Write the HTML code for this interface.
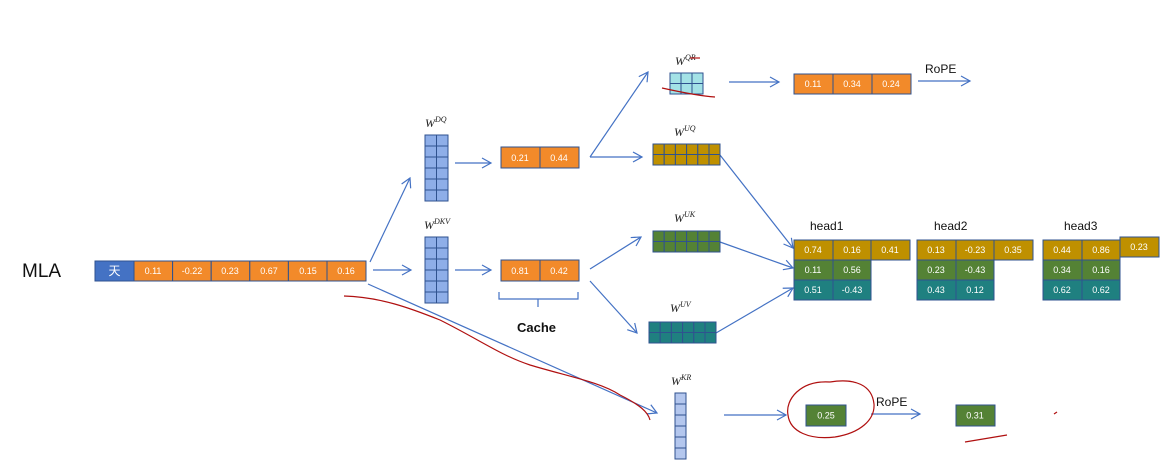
<!DOCTYPE html>
<html><head><meta charset="utf-8"><style>
html,body{margin:0;padding:0;background:#fff;}
svg{display:block;}
.c{font-family:"Liberation Sans",sans-serif;font-size:9px;fill:#fff;text-anchor:middle;dominant-baseline:central;}
.w{font-family:"Liberation Serif",serif;font-style:italic;font-size:12px;fill:#222;}
.w tspan{font-size:8px;}
.l{font-family:"Liberation Sans",sans-serif;font-size:12px;fill:#111;}
</style></head><body>
<svg width="1173" height="462" viewBox="0 0 1173 462" xmlns="http://www.w3.org/2000/svg">
<defs>
<marker id="a" markerWidth="12" markerHeight="12" refX="10" refY="6" orient="auto" markerUnits="userSpaceOnUse">
<polyline points="1,1 10,6 1,11" fill="none" stroke="#4472c4" stroke-width="1.2"/></marker>
</defs>
<g fill="none" stroke="#4472c4" stroke-width="1.2" marker-end="url(#a)">
<line x1="370" y1="262" x2="410" y2="178"/>
<line x1="373" y1="270" x2="411" y2="270"/>
<line x1="455" y1="163" x2="491" y2="163"/>
<line x1="455" y1="270" x2="491" y2="270"/>
<line x1="590" y1="157" x2="648" y2="72"/>
<line x1="590" y1="157" x2="642" y2="157"/>
<line x1="590" y1="269" x2="641" y2="237"/>
<line x1="590" y1="281" x2="637" y2="333"/>
<line x1="729" y1="82" x2="779" y2="82"/>
<line x1="918" y1="81" x2="970" y2="81"/>
<line x1="720" y1="155" x2="793" y2="248"/>
<line x1="720" y1="242" x2="793" y2="268"/>
<line x1="716" y1="333" x2="793" y2="288"/>
<line x1="368" y1="284" x2="657" y2="413"/>
<line x1="724" y1="415" x2="786" y2="415"/>
<line x1="871" y1="414" x2="920" y2="414"/>
</g>
<!-- brace -->
<path d="M499 292 v7 h79 v-7 M538 299 v8" fill="none" stroke="#4472c4" stroke-width="1.2"/>
<!-- main row -->
<rect x="95" y="261" width="39" height="20" fill="#4472c4" stroke="#2f528f"/>
<text x="114.5" y="271" class="c" style="font-size:12px;font-family:'Liberation Sans','Noto Sans CJK SC',sans-serif">天</text>
<g stroke="#2f528f" fill="#f28a2a">
<rect x="134" y="261" width="38.6" height="20"/><rect x="172.6" y="261" width="38.6" height="20"/><rect x="211.2" y="261" width="38.6" height="20"/><rect x="249.8" y="261" width="38.6" height="20"/><rect x="288.4" y="261" width="38.6" height="20"/><rect x="327" y="261" width="39" height="20"/>
<rect x="501" y="147" width="39" height="21"/><rect x="540" y="147" width="39" height="21"/>
<rect x="501" y="260" width="39" height="21"/><rect x="540" y="260" width="39" height="21"/>
<rect x="794" y="74" width="39" height="20"/><rect x="833" y="74" width="39" height="20"/><rect x="872" y="74" width="39" height="20"/>
</g>
<text class="c" x="153" y="271">0.11</text><text class="c" x="192" y="271">-0.22</text><text class="c" x="230" y="271">0.23</text><text class="c" x="269" y="271">0.67</text><text class="c" x="308" y="271">0.15</text><text class="c" x="346" y="271">0.16</text>
<text class="c" x="520" y="158">0.21</text><text class="c" x="559" y="158">0.44</text>
<text class="c" x="520" y="271">0.81</text><text class="c" x="559" y="271">0.42</text>
<text class="c" x="813" y="84">0.11</text><text class="c" x="852" y="84">0.34</text><text class="c" x="891" y="84">0.24</text>
<!-- matrices -->
<g stroke="#2f528f" fill="#8eaee8">
<rect x="425" y="135" width="11.5" height="11"/><rect x="436.5" y="135" width="11.5" height="11"/>
<rect x="425" y="146" width="11.5" height="11"/><rect x="436.5" y="146" width="11.5" height="11"/>
<rect x="425" y="157" width="11.5" height="11"/><rect x="436.5" y="157" width="11.5" height="11"/>
<rect x="425" y="168" width="11.5" height="11"/><rect x="436.5" y="168" width="11.5" height="11"/>
<rect x="425" y="179" width="11.5" height="11"/><rect x="436.5" y="179" width="11.5" height="11"/>
<rect x="425" y="190" width="11.5" height="11"/><rect x="436.5" y="190" width="11.5" height="11"/>
<rect x="425" y="237" width="11.5" height="11"/><rect x="436.5" y="237" width="11.5" height="11"/>
<rect x="425" y="248" width="11.5" height="11"/><rect x="436.5" y="248" width="11.5" height="11"/>
<rect x="425" y="259" width="11.5" height="11"/><rect x="436.5" y="259" width="11.5" height="11"/>
<rect x="425" y="270" width="11.5" height="11"/><rect x="436.5" y="270" width="11.5" height="11"/>
<rect x="425" y="281" width="11.5" height="11"/><rect x="436.5" y="281" width="11.5" height="11"/>
<rect x="425" y="292" width="11.5" height="11"/><rect x="436.5" y="292" width="11.5" height="11"/>
</g>
<g stroke="#2f528f" fill="#b4c7ee">
<rect x="675" y="393" width="11" height="11"/><rect x="675" y="404" width="11" height="11"/><rect x="675" y="415" width="11" height="11"/><rect x="675" y="426" width="11" height="11"/><rect x="675" y="437" width="11" height="11"/><rect x="675" y="448" width="11" height="11"/>
</g>
<g stroke="#2f528f" fill="#a3e2e6">
<rect x="670" y="73" width="11" height="10.5"/><rect x="681" y="73" width="11" height="10.5"/><rect x="692" y="73" width="11" height="10.5"/>
<rect x="670" y="83.5" width="11" height="10.5"/><rect x="681" y="83.5" width="11" height="10.5"/><rect x="692" y="83.5" width="11" height="10.5"/>
</g>
<g stroke="#2f528f" fill="#bf9000">
<rect x="653" y="144" width="11.2" height="10.5"/><rect x="664.2" y="144" width="11.2" height="10.5"/><rect x="675.4" y="144" width="11.2" height="10.5"/><rect x="686.6" y="144" width="11.2" height="10.5"/><rect x="697.8" y="144" width="11.2" height="10.5"/><rect x="709" y="144" width="11" height="10.5"/>
<rect x="653" y="154.5" width="11.2" height="10.5"/><rect x="664.2" y="154.5" width="11.2" height="10.5"/><rect x="675.4" y="154.5" width="11.2" height="10.5"/><rect x="686.6" y="154.5" width="11.2" height="10.5"/><rect x="697.8" y="154.5" width="11.2" height="10.5"/><rect x="709" y="154.5" width="11" height="10.5"/>
</g>
<g stroke="#2f528f" fill="#548235">
<rect x="653" y="231" width="11.2" height="10.5"/><rect x="664.2" y="231" width="11.2" height="10.5"/><rect x="675.4" y="231" width="11.2" height="10.5"/><rect x="686.6" y="231" width="11.2" height="10.5"/><rect x="697.8" y="231" width="11.2" height="10.5"/><rect x="709" y="231" width="11" height="10.5"/>
<rect x="653" y="241.5" width="11.2" height="10.5"/><rect x="664.2" y="241.5" width="11.2" height="10.5"/><rect x="675.4" y="241.5" width="11.2" height="10.5"/><rect x="686.6" y="241.5" width="11.2" height="10.5"/><rect x="697.8" y="241.5" width="11.2" height="10.5"/><rect x="709" y="241.5" width="11" height="10.5"/>
</g>
<g stroke="#2f528f" fill="#1f8080">
<rect x="649" y="322" width="11.2" height="10.5"/><rect x="660.2" y="322" width="11.2" height="10.5"/><rect x="671.4" y="322" width="11.2" height="10.5"/><rect x="682.6" y="322" width="11.2" height="10.5"/><rect x="693.8" y="322" width="11.2" height="10.5"/><rect x="705" y="322" width="11" height="10.5"/>
<rect x="649" y="332.5" width="11.2" height="10.5"/><rect x="660.2" y="332.5" width="11.2" height="10.5"/><rect x="671.4" y="332.5" width="11.2" height="10.5"/><rect x="682.6" y="332.5" width="11.2" height="10.5"/><rect x="693.8" y="332.5" width="11.2" height="10.5"/><rect x="705" y="332.5" width="11" height="10.5"/>
</g>
<!-- heads -->
<g stroke="#2f528f">
<rect x="794" y="240" width="39" height="20" fill="#bf9000"/><rect x="833" y="240" width="38" height="20" fill="#bf9000"/><rect x="871" y="240" width="39" height="20" fill="#bf9000"/>
<rect x="794" y="260" width="39" height="20" fill="#548235"/><rect x="833" y="260" width="38" height="20" fill="#548235"/>
<rect x="794" y="280" width="39" height="20" fill="#1f8080"/><rect x="833" y="280" width="38" height="20" fill="#1f8080"/>
<rect x="917" y="240" width="39" height="20" fill="#bf9000"/><rect x="956" y="240" width="38" height="20" fill="#bf9000"/><rect x="994" y="240" width="39" height="20" fill="#bf9000"/>
<rect x="917" y="260" width="39" height="20" fill="#548235"/><rect x="956" y="260" width="38" height="20" fill="#548235"/>
<rect x="917" y="280" width="39" height="20" fill="#1f8080"/><rect x="956" y="280" width="38" height="20" fill="#1f8080"/>
<rect x="1043" y="240" width="39" height="20" fill="#bf9000"/><rect x="1082" y="240" width="38" height="20" fill="#bf9000"/><rect x="1120" y="237" width="39" height="20" fill="#bf9000"/>
<rect x="1043" y="260" width="39" height="20" fill="#548235"/><rect x="1082" y="260" width="38" height="20" fill="#548235"/>
<rect x="1043" y="280" width="39" height="20" fill="#1f8080"/><rect x="1082" y="280" width="38" height="20" fill="#1f8080"/>
<rect x="806" y="405" width="40" height="21" fill="#548235"/>
<rect x="956" y="405" width="39" height="21" fill="#548235"/>
</g>
<text class="c" x="813" y="250">0.74</text><text class="c" x="852" y="250">0.16</text><text class="c" x="890" y="250">0.41</text>
<text class="c" x="813" y="270">0.11</text><text class="c" x="852" y="270">0.56</text>
<text class="c" x="813" y="290">0.51</text><text class="c" x="852" y="290">-0.43</text>
<text class="c" x="936" y="250">0.13</text><text class="c" x="975" y="250">-0.23</text><text class="c" x="1013" y="250">0.35</text>
<text class="c" x="936" y="270">0.23</text><text class="c" x="975" y="270">-0.43</text>
<text class="c" x="936" y="290">0.43</text><text class="c" x="975" y="290">0.12</text>
<text class="c" x="1062" y="250">0.44</text><text class="c" x="1101" y="250">0.86</text><text class="c" x="1139" y="247">0.23</text>
<text class="c" x="1062" y="270">0.34</text><text class="c" x="1101" y="270">0.16</text>
<text class="c" x="1062" y="290">0.62</text><text class="c" x="1101" y="290">0.62</text>
<text class="c" x="826" y="415.5">0.25</text><text class="c" x="975" y="415.5">0.31</text>
<!-- labels -->
<text x="22" y="277" style="font-family:'Liberation Sans',sans-serif;font-size:19px;fill:#111">MLA</text>
<text class="l" x="517" y="332" style="font-weight:bold;font-size:13px">Cache</text>
<text class="l" x="810" y="230">head1</text>
<text class="l" x="934" y="230">head2</text>
<text class="l" x="1064" y="230">head3</text>
<text class="l" x="925" y="73">RoPE</text>
<text class="l" x="876" y="406">RoPE</text>
<text class="w" x="425" y="127">W<tspan dy="-5">DQ</tspan></text>
<text class="w" x="424" y="229">W<tspan dy="-5">DKV</tspan></text>
<text class="w" x="675" y="65">W<tspan dy="-5">QR</tspan></text>
<text class="w" x="674" y="136">W<tspan dy="-5">UQ</tspan></text>
<text class="w" x="674" y="222">W<tspan dy="-5">UK</tspan></text>
<text class="w" x="670" y="312">W<tspan dy="-5">UV</tspan></text>
<text class="w" x="671" y="385">W<tspan dy="-5">KR</tspan></text>
<!-- red annotations -->
<g fill="none" stroke="#b01010" stroke-width="1.2">
<path d="M344 296 C380 297 410 308 440 320 C480 340 500 355 530 365 C570 377 600 382 620 395 C640 405 648 412 650 420"/>
<path d="M662 88 C680 92 700 96 715 97"/>
<path d="M690 58 h10"/>
<path d="M830 382 C800 380 785 400 788 415 C790 432 810 440 835 437 C860 433 875 420 874 404 C872 385 855 378 830 382"/>
<path d="M965 442 L1007 435"/>
<path d="M1054 414 l3 -2"/>
</g>
</svg>
</body></html>
